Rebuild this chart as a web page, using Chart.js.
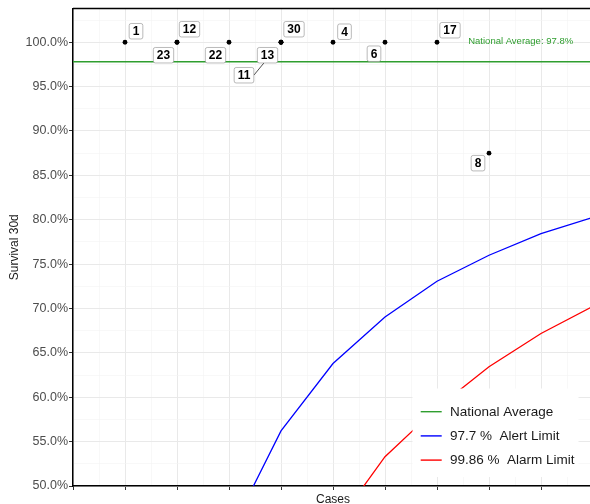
<!DOCTYPE html>
<html>
<head>
<meta charset="utf-8">
<script src="https://cdn.jsdelivr.net/npm/chart.js@4.4.1/dist/chart.umd.min.js"></script>
<style>
html, body { margin: 0; padding: 0; background: #fff; overflow: hidden; width: 590px; height: 504px; }
#wrap { position: absolute; left: 0; top: 0; width: 600px; height: 504px; }
</style>
</head>
<body>
<div id="wrap"><canvas id="funnel" width="600" height="504"></canvas></div>
<script>
// hospitals: label, number of cases, 30 day survival (%)
const hospitals = ['1', '12', '23', '22', '30', '13', '11', '4', '6', '17', '8'];
const cases = [1, 2, 2, 3, 4, 4, 4, 5, 6, 7, 8];
const survival = [100, 100, 100, 100, 100, 100, 100, 100, 100, 100, 87.5];

// control limits by number of cases
const alertCases = [3, 4, 5, 6, 7, 8, 9, 10];
const alertLimit = [44.5, 56.2, 63.8, 69.05, 73.07, 76.0, 78.44, 80.28];
const alarmCases = [5, 6, 7, 8, 9, 10];
const alarmLimit = [45.2, 53.3, 58.8, 63.43, 67.18, 70.25];

const nationalAverage = 97.8;
const averageSpan = [0, 10];
const legendLabels = ['National Average', '97.7 %  Alert Limit', '99.86 %  Alarm Limit'];

// where the repelled labels ended up, px from their point
const labelOffsets = [[11, -11], [12.5, -13], [-13.5, 13], [-13.5, 13], [13, -13], [-13.5, 13],
	[-37, 33], [11.5, -10.5], [-11, 11.5], [13, -12], [-11, 10]];

const FONT = '"Liberation Sans", Arial, sans-serif';
const GREEN = '#2f9e2f', BLUE = '#0000ff', RED = '#ff0000';
const MAJOR = '#e9e9e9', MINOR = '#f4f4f4';

const toXY = (xs, ys) => xs.map((v, i) => ({x: v, y: ys[i]}));

const overlay = {
	id: 'overlay',
	afterDatasetsDraw(chart) {
		const ctx = chart.ctx, x = chart.scales.x, y = chart.scales.y, area = chart.chartArea;
		ctx.save();

		// national average note
		ctx.fillStyle = GREEN;
		ctx.font = '9.5px ' + FONT;
		ctx.textAlign = 'left';
		ctx.textBaseline = 'middle';
		ctx.fillText('National Average: ' + nationalAverage + '%', x.getPixelForValue(7.6), y.getPixelForValue(nationalAverage) - 20.5);

		// labels
		ctx.font = 'bold 12px ' + FONT;
		const boxes = hospitals.map(function(h, i) {
			const px = x.getPixelForValue(cases[i]), py = y.getPixelForValue(survival[i]);
			return {h: h, px: px, py: py, cx: px + labelOffsets[i][0], cy: py + labelOffsets[i][1],
				w: ctx.measureText(h).width + 7, ht: 15.5};
		});

		// segment only for labels pushed far away
		ctx.strokeStyle = '#000';
		ctx.lineWidth = 0.7;
		boxes.forEach(function(b) {
			const d = Math.hypot(b.cx - b.px, b.cy - b.py);
			if (d < 25) return;
			const ex = b.cx + Math.sign(b.px - b.cx) * b.w / 2, ey = b.cy;
			const len = Math.hypot(ex - b.px, ey - b.py);
			ctx.beginPath();
			ctx.moveTo(b.px + (ex - b.px) * 8 / len, b.py + (ey - b.py) * 8 / len);
			ctx.lineTo(ex, ey);
			ctx.stroke();
		});

		boxes.forEach(function(b) {
			ctx.beginPath();
			if (ctx.roundRect) ctx.roundRect(b.cx - b.w / 2, b.cy - b.ht / 2, b.w, b.ht, 2);
			else ctx.rect(b.cx - b.w / 2, b.cy - b.ht / 2, b.w, b.ht);
			ctx.fillStyle = '#fff';
			ctx.fill();
			ctx.strokeStyle = '#8c8c8c';
			ctx.lineWidth = 0.6;
			ctx.stroke();
			ctx.fillStyle = '#000';
			ctx.textAlign = 'center';
			ctx.fillText(b.h, b.cx, b.cy + 0.5);
		});

		// legend, inside the panel at bottom right
		const lw = 166, lh = 88.5;
		const lx = area.right - 14.5 - lw, ly = area.bottom - 9 - lh;
		ctx.fillStyle = '#fff';
		ctx.fillRect(lx, ly, lw, lh);
		ctx.font = '13.5px ' + FONT;
		ctx.textAlign = 'left';
		const colors = [GREEN, BLUE, RED];
		legendLabels.forEach(function(t, i) {
			const ry = ly + 23.2 + i * 24.2;
			ctx.strokeStyle = colors[i];
			ctx.lineWidth = 1.4;
			ctx.beginPath();
			ctx.moveTo(lx + 8.2, ry);
			ctx.lineTo(lx + 29.2, ry);
			ctx.stroke();
			ctx.fillStyle = '#1a1a1a';
			ctx.fillText(t, lx + 37.5, ry + 0.5);
		});

		// panel border top and right
		ctx.strokeStyle = '#000';
		ctx.lineWidth = 1.5;
		ctx.beginPath();
		ctx.moveTo(area.left, area.top);
		ctx.lineTo(area.right, area.top);
		ctx.lineTo(area.right, area.bottom);
		ctx.stroke();
		ctx.restore();
	}
};

const isMajorY = v => Math.abs(v % 5) < 1e-9;
const isMajorX = v => Math.abs(v % 1) < 1e-9;

new Chart(document.getElementById('funnel'), {
	type: 'scatter',
	data: {
		datasets: [
			{
				label: 'hospitals',
				data: toXY(cases, survival),
				pointRadius: 2.4,
				pointBackgroundColor: '#000',
				pointBorderWidth: 0
			},
			{
				label: legendLabels[0],
				data: toXY(averageSpan, [nationalAverage, nationalAverage]),
				showLine: true, pointRadius: 0, borderColor: GREEN, borderWidth: 1.5
			},
			{
				label: legendLabels[1],
				data: toXY(alertCases, alertLimit),
				showLine: true, pointRadius: 0, borderColor: BLUE, borderWidth: 1.3
			},
			{
				label: legendLabels[2],
				data: toXY(alarmCases, alarmLimit),
				showLine: true, pointRadius: 0, borderColor: RED, borderWidth: 1.3
			}
		]
	},
	options: {
		responsive: false,
		animation: false,
		events: [],
		devicePixelRatio: 1,
		layout: {padding: {top: 6.5, right: 7, left: 0, bottom: 0}},
		plugins: {legend: {display: false}, tooltip: {enabled: false}},
		scales: {
			x: {
				type: 'linear',
				min: 0,
				max: 10,
				afterFit: s => { s.height = 18; },
				ticks: {display: false, stepSize: 0.5, autoSkip: false},
				grid: {
					color: c => isMajorX(c.tick.value) ? MAJOR : MINOR,
					lineWidth: c => isMajorX(c.tick.value) ? 1 : 0.6,
					tickColor: c => isMajorX(c.tick.value) ? '#333' : 'rgba(0,0,0,0)',
					tickLength: 4
				},
				border: {color: '#000', width: 1.5},
				title: {
					display: true, text: 'Cases', color: '#1a1a1a',
					font: {family: FONT, size: 12}, padding: {top: 0, bottom: -3.2}
				}
			},
			y: {
				min: 50,
				max: 103.8,
				afterFit: s => { s.width = 73; },
				ticks: {
					stepSize: 2.5, autoSkip: false, includeBounds: false, padding: 1,
					color: '#4d4d4d', font: {family: FONT, size: 12.5},
					callback: v => isMajorY(v) ? v.toFixed(1) + '%' : ''
				},
				grid: {
					color: c => isMajorY(c.tick.value) ? MAJOR : MINOR,
					lineWidth: c => isMajorY(c.tick.value) ? 1 : 0.6,
					tickColor: c => isMajorY(c.tick.value) ? '#333' : 'rgba(0,0,0,0)',
					tickLength: 4
				},
				border: {color: '#000', width: 1.5},
				title: {
					display: true, text: 'Survival 30d', color: '#1a1a1a',
					font: {family: FONT, size: 12}, padding: {top: 7.3, bottom: 0}
				}
			}
		}
	},
	plugins: [overlay]
});
</script>
</body>
</html>
